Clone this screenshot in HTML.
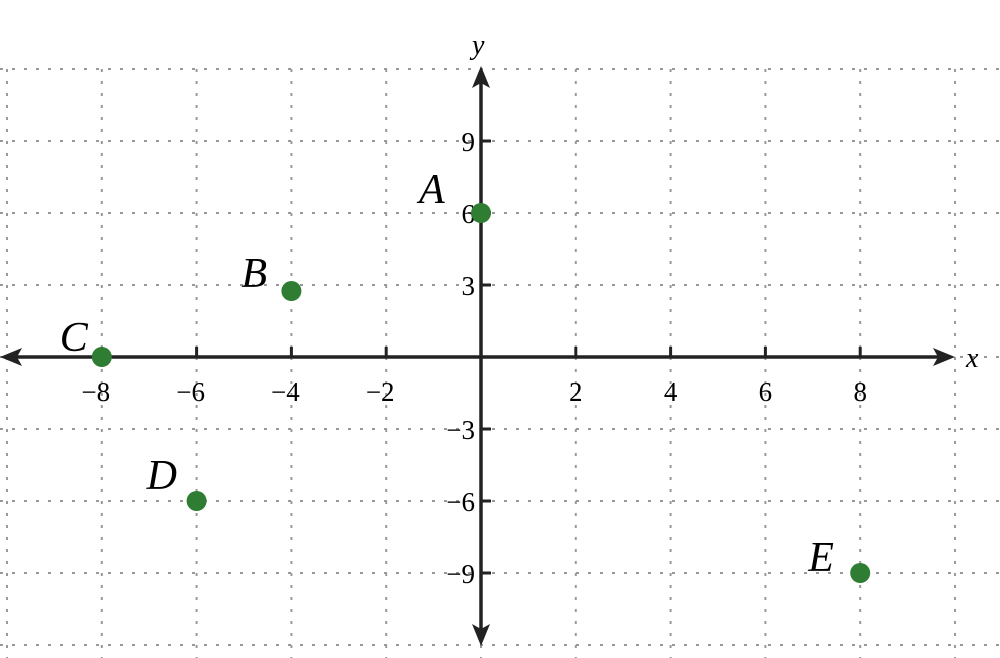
<!DOCTYPE html>
<html><head><meta charset="utf-8"><style>body{margin:0;background:#fff}svg{display:block}</style></head>
<body>
<svg id="chart" width="1000" height="658" viewBox="0 0 1000 658" font-family="Liberation Serif, serif"></svg>
<script>
const pointLabels = ["A","B","C","D","E"];
const pointX = [0,-4,-8,-6,8];
const pointY = [6,2.75,0,-6,-9];
const xTicks = [-8,-6,-4,-2,2,4,6,8];
const yTicks = [9,6,3,-3,-6,-9];
const labelOffsets = [[-62,-24],[-50,-18],[-42,-20],[-50,-26],[-52,-16]];
const NS="http://www.w3.org/2000/svg";
const svg=document.getElementById('chart');
const X=v=>481+v*47.4;
const Y=v=>357-v*24.0;
function mk(t,a,p){const e=document.createElementNS(NS,t);for(const k in a)e.setAttribute(k,a[k]);(p||svg).appendChild(e);return e;}
const grid=mk('g',{stroke:'#999','stroke-width':2,'stroke-dasharray':'3 9'});


for(let v=-10;v<=10;v+=2){mk('line',{x1:X(v),x2:X(v),y1:Y(12),y2:658},grid);}
for(let v=-12;v<=12;v+=3){mk('line',{x1:0,x2:1000,y1:Y(v),y2:Y(v)},grid);}
const ax=mk('g',{stroke:'#222','stroke-width':3.5});


mk('line',{x1:8,x2:945,y1:Y(0),y2:Y(0)},ax);
mk('line',{x1:X(0),x2:X(0),y1:75,y2:638},ax);
mk('path',{d:`M955 ${Y(0)} l-22 -9 l5 9 l-5 9z`,fill:'#222',stroke:'none'});
mk('path',{d:`M0 ${Y(0)} l22 -9 l-5 9 l5 9z`,fill:'#222',stroke:'none'});
mk('path',{d:`M${X(0)} 66 l-9 22 l9 -5 l9 5z`,fill:'#222',stroke:'none'});
mk('path',{d:`M${X(0)} 646 l-9 -22 l9 5 l9 -5z`,fill:'#222',stroke:'none'});
let t=mk('text',{x:966,y:Y(0)+10,'font-size':28,'font-style':'italic'});t.textContent='x';

t=mk('text',{x:472,y:54,'font-size':28,'font-style':'italic'});t.textContent='y';

xTicks.forEach(v=>{mk('line',{x1:X(v),x2:X(v),y1:Y(0),y2:Y(0)-10,stroke:'#222','stroke-width':3});
 const e=mk('text',{x:X(v)-(v<0?6:0),y:Y(0)+44,'font-size':27,'text-anchor':'middle'});e.textContent=v<0?'\u2212'+(-v):v;
 });
yTicks.forEach(v=>{mk('line',{x1:X(0),x2:X(0)+10,y1:Y(v),y2:Y(v),stroke:'#222','stroke-width':3});
 const e=mk('text',{x:X(0)-6,y:Y(v)+10,'font-size':27,'text-anchor':'end'});e.textContent=v<0?'\u2212'+(-v):v;
 });
pointLabels.forEach((n,i)=>{const c=mk('circle',{cx:X(pointX[i]),cy:Y(pointY[i]),r:10,fill:'#2e7d32'});
 
 const e=mk('text',{x:X(pointX[i])+labelOffsets[i][0],y:Y(pointY[i])+labelOffsets[i][1]+14,'font-size':42,'font-style':'italic'});e.textContent=n;
 });
</script>
</body></html>
